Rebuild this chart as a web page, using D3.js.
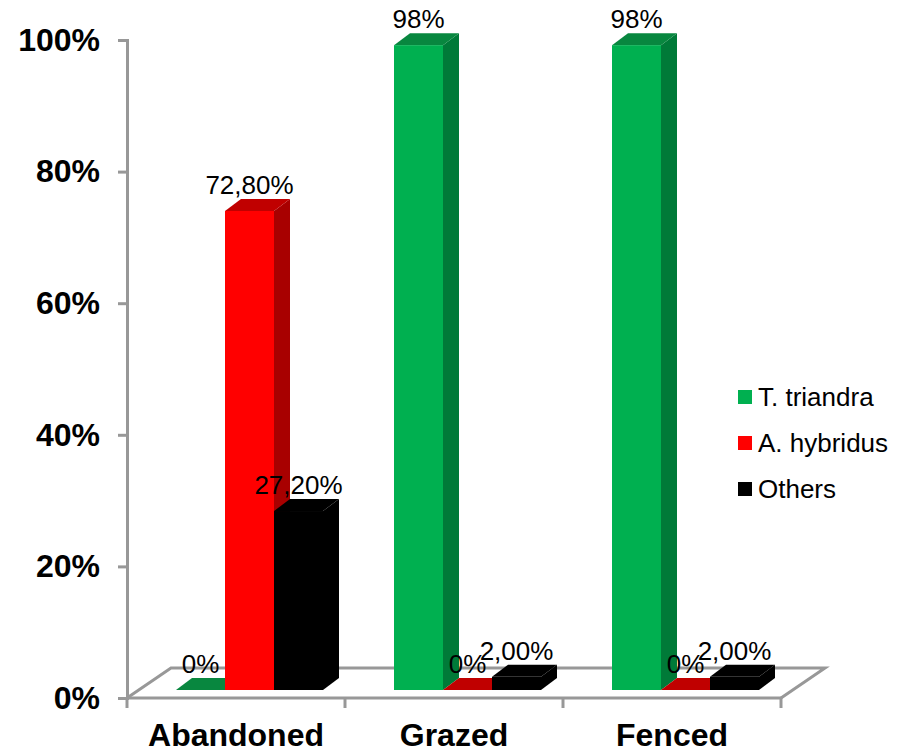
<!DOCTYPE html>
<html>
<head>
<meta charset="utf-8">
<script src="https://cdnjs.cloudflare.com/ajax/libs/d3/7.8.5/d3.min.js"></script>
<style>
  html, body { margin: 0; padding: 0; background: #fff; }
  svg { display: block; }
  text { font-family: "Liberation Sans", Arial, sans-serif; fill: #000; }
</style>
</head>
<body>
<svg id="chart" width="906" height="754"></svg>
<script>
const categories = ["Abandoned", "Grazed", "Fenced"];
const speciesNames = ["T. triandra", "A. hybridus", "Others"];
const triandraValues = [0, 98, 98];
const hybridusValues = [72.8, 0, 0];
const othersValues = [27.2, 2, 2];
const valueLabels = [
  ["0%", "98%", "98%"],
  ["72,80%", "0%", "0%"],
  ["27,20%", "2,00%", "2,00%"]
];
const percentTicks = [0, 20, 40, 60, 80, 100];

const seriesValues = [triandraValues, hybridusValues, othersValues];
const faceColors = ["#00B050", "#FF0000", "#000000"];
const topColors = ["#08873F", "#C00000", "#000000"];
const sideColors = ["#007A38", "#A80000", "#000000"];

const svg = d3.select("#chart");
const axisColor = "#989898";

const y = d3.scaleLinear().domain([0, 100]).range([698, 40]);
const x = d3.scaleBand().domain(categories).range([127, 781]);
const inner = d3.scaleBand().domain(speciesNames).range([49, 196]);

// Oblique projection of the 3D plot: how far the back wall sits from the front edge.
const floorDepth = { dx: 44, dy: -30 };
const barDepth = { dx: 16, dy: -12 };
const barLift = 8;

// Floor outline behind the bars
const floor = d3.path();
floor.moveTo(x.range()[0], y(0));
floor.lineTo(x.range()[0] + floorDepth.dx, y(0) + floorDepth.dy);
floor.lineTo(x.range()[1] + floorDepth.dx, y(0) + floorDepth.dy);
floor.lineTo(x.range()[1], y(0));
svg.append("path").attr("d", floor.toString())
  .attr("fill", "none").attr("stroke", axisColor).attr("stroke-width", 3);

// Bars: side and top faces first, the front face over them
const bars = [];
speciesNames.forEach((name, s) => {
  categories.forEach((cat, c) => {
    bars.push({ s, cat, name, value: seriesValues[s][c], label: valueLabels[s][c] });
  });
});

function poly(points) {
  return d3.line()(points) + "Z";
}

const barGroups = svg.append("g").selectAll("g")
  .data(bars)
  .join("g");

barGroups.each(function (d) {
  const g = d3.select(this);
  const x0 = x(d.cat) + inner(d.name);
  const x1 = x0 + inner.bandwidth();
  const yBase = y(0) - barLift;
  const yTop = y(d.value) - barLift;
  const dx = barDepth.dx, dy = barDepth.dy;
  g.append("path")
    .attr("d", poly([[x1, yTop], [x1 + dx, yTop + dy], [x1 + dx, yBase + dy], [x1, yBase]]))
    .attr("fill", sideColors[d.s]);
  g.append("path")
    .attr("d", poly([[x0, yTop], [x0 + dx, yTop + dy], [x1 + dx, yTop + dy], [x1, yTop]]))
    .attr("fill", topColors[d.s]);
  g.append("rect")
    .attr("x", x0).attr("y", yTop)
    .attr("width", inner.bandwidth()).attr("height", yBase - yTop)
    .attr("fill", faceColors[d.s]);
});

// Value labels above each bar
svg.append("g").selectAll("text")
  .data(bars)
  .join("text")
  .attr("x", d => x(d.cat) + inner(d.name) + inner.bandwidth() / 2)
  .attr("y", d => y(d.value) - barLift - 17)
  .attr("text-anchor", "middle")
  .attr("font-size", 26)
  .text(d => d.label);

// Value axis
const yAxis = svg.append("g")
  .attr("transform", `translate(${x.range()[0]},0)`)
  .call(d3.axisLeft(y).tickValues(percentTicks).tickFormat(d => d + "%").tickSize(9).tickPadding(18));
yAxis.selectAll("path").attr("stroke", axisColor).attr("stroke-width", 3);
yAxis.selectAll("line").attr("stroke", axisColor).attr("stroke-width", 3);
yAxis.selectAll("text").attr("font-size", 32).attr("font-weight", "bold")
  .attr("font-family", '"Liberation Sans", Arial, sans-serif').attr("fill", "#000");

// Category axis: labels at band centres, tick marks on band edges
const xAxis = svg.append("g")
  .attr("transform", `translate(0,${y(0)})`)
  .call(d3.axisBottom(x).tickSize(0).tickPadding(25));
xAxis.select("path").remove();
xAxis.selectAll("text").attr("font-size", 32).attr("font-weight", "bold")
  .attr("font-family", '"Liberation Sans", Arial, sans-serif').attr("fill", "#000");
xAxis.append("line")
  .attr("x1", x.range()[0]).attr("x2", x.range()[1])
  .attr("stroke", axisColor).attr("stroke-width", 3);
xAxis.selectAll("line.edge")
  .data(d3.range(categories.length + 1))
  .join("line")
  .attr("class", "edge")
  .attr("x1", i => x.range()[0] + i * x.step())
  .attr("x2", i => x.range()[0] + i * x.step())
  .attr("y1", 0).attr("y2", 10)
  .attr("stroke", axisColor).attr("stroke-width", 3);

// Legend
const legend = svg.append("g").selectAll("g")
  .data(speciesNames)
  .join("g")
  .attr("transform", (d, i) => `translate(738,${390 + i * 46})`);
legend.append("rect")
  .attr("width", 14).attr("height", 14)
  .attr("fill", (d, i) => faceColors[i]);
legend.append("text")
  .attr("x", 20).attr("y", 16)
  .attr("font-size", 26)
  .text(d => d);
</script>
</body>
</html>
